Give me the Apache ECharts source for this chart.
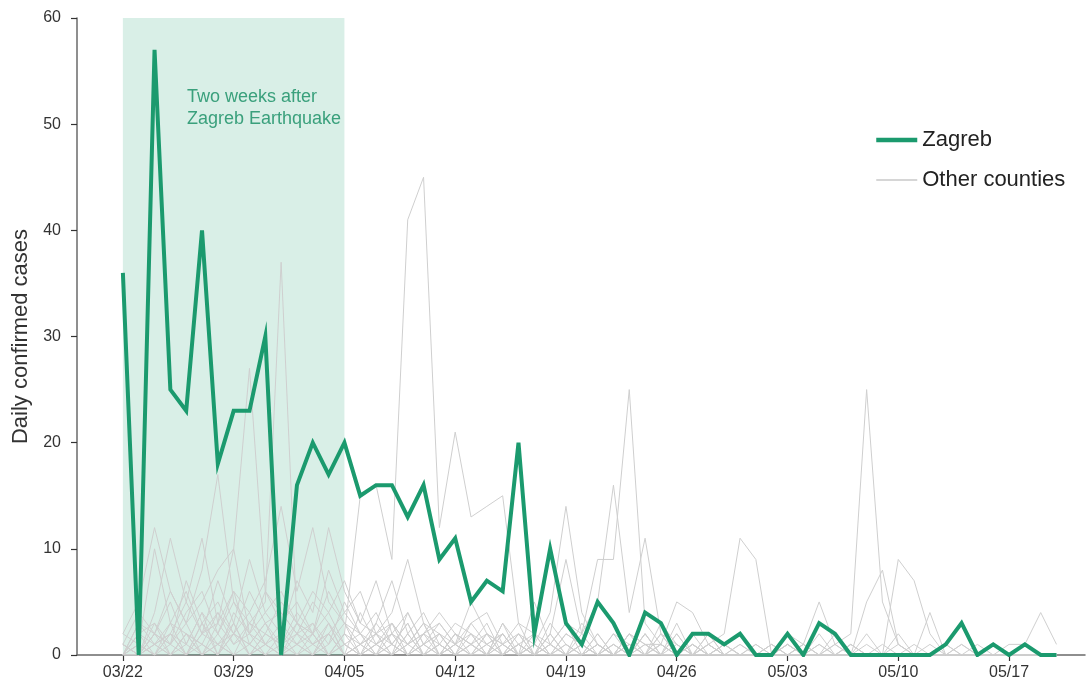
<!DOCTYPE html>
<html>
<head>
<meta charset="utf-8">
<script src="https://cdn.jsdelivr.net/npm/echarts@6/dist/echarts.min.js"></script>
<style>
  html, body { margin: 0; padding: 0; background: #fff; }
  #chart { width: 1088px; height: 692px; }
</style>
</head>
<body>
<div id="chart"></div>
<script>
(function() {
  'use strict';

  // --- Data: day index 0 = 03/22 ---
  var tickDays = [0, 7, 14, 21, 28, 35, 42, 49, 56];
  var tickLabels = ['03/22', '03/29', '04/05', '04/12', '04/19', '04/26', '05/03', '05/10', '05/17'];
  var yTicks = [0, 10, 20, 30, 40, 50, 60];

  var zagreb = [
    36, 0, 57, 25, 23, 40, 18, 23, 23, 30,
    0, 16, 20, 17, 20, 15, 16, 16, 13, 16,
    9, 11, 5, 7, 6, 20, 2, 10, 3, 1,
    5, 3, 0, 4, 3, 0, 2, 2, 1, 2,
    0, 0, 2, 0, 3, 2, 0, 0, 0, 0,
    0, 0, 1, 3, 0, 1, 0, 1, 0, 0
  ];

  var county01 = [0,2,1,3,0,2,4,1,3,5, 37,3,1,2,0,1,0,2,1,0, 1,0,0,2,1,0,0,1,0,0, 0,1,0,0,0,0,1,0,0,0, 0,0,0,0,1,0,0,0,0,0, 0,0,0,0,0,0,0,0,0,0];
  var county02 = [1,4,2,6,3,5,8,10,27,6, 4,2,5,3,1,2,0,1,3,0, 0,1,0,0,2,0,1,0,0,0, 1,0,0,0,0,2,0,0,0,0, 0,0,0,1,0,0,0,0,0,0, 0,0,0,0,0,0,0,0,0,0];
  var county03 = [0,0,1,0,2,0,1,3,0,2, 1,3,2,0,2,15,16,9,41,45, 12,21,13,14,15,3,2,0,1,0, 0,0,1,0,0,0,0,0,1,0, 0,0,0,0,0,0,0,0,0,0, 0,0,0,0,0,0,0,0,0,0];
  var county04 = [2,5,12,6,3,8,17,5,2,4, 6,3,2,4,1,0,2,1,0,1, 0,1,2,0,0,1,0,0,0,1, 0,0,0,0,1,0,0,0,0,0, 0,0,0,0,0,0,1,0,0,0, 0,0,0,0,0,0,0,0,0,0];
  var county05 = [0,3,1,2,5,2,3,6,4,7, 14,6,12,5,3,2,4,1,3,0, 2,0,1,3,0,1,0,2,0,0, 1,0,0,2,0,0,0,1,0,0, 0,0,1,0,0,0,0,0,0,0, 0,0,0,0,0,0,0,0,0,0];
  var county06 = [1,0,4,11,5,11,3,10,2,6, 3,5,2,8,4,6,2,3,1,2, 4,2,1,0,3,1,0,0,2,1, 0,2,0,0,0,1,0,0,0,0, 0,0,0,0,0,0,0,0,0,0, 0,0,0,0,0,0,0,0,0,0];
  var county07 = [0,1,10,3,6,2,7,3,9,4, 2,7,4,12,6,3,7,2,4,1, 3,1,5,2,0,1,2,0,0,1, 0,0,1,0,2,0,0,0,0,1, 0,0,0,0,0,0,0,0,0,0, 0,0,0,0,0,0,0,0,0,0];
  var county08 = [0,2,3,1,4,6,2,5,3,2, 5,3,6,4,7,3,2,4,9,3, 2,1,3,4,1,2,0,1,3,0, 1,0,2,1,0,0,1,0,0,0, 0,1,0,0,0,0,0,0,0,0, 0,0,0,0,0,0,0,0,0,0];
  var county09 = [0,0,1,2,0,3,1,2,4,1, 2,1,3,0,2,1,3,7,2,4, 1,3,2,1,0,2,1,4,14,4, 1,0,2,0,1,0,0,1,0,0, 0,0,0,0,0,0,0,0,0,0, 0,0,0,0,0,0,0,0,0,0];
  var county10 = [0,1,0,2,1,0,3,1,2,0, 1,2,0,1,3,0,1,2,0,1, 0,2,1,0,1,3,0,2,9,2, 9,9,25,3,1,0,2,0,1,0, 0,1,0,0,0,0,0,0,0,0, 0,0,0,0,0,0,0,0,0,0];
  var county11 = [1,0,2,0,1,4,0,2,1,3, 0,2,1,3,0,1,2,0,4,1, 2,0,3,1,2,0,5,1,3,2, 5,16,4,11,2,1,0,2,0,1, 0,0,1,0,0,0,1,0,0,0, 0,0,0,0,0,0,0,0,0,0];
  var county12 = [0,0,1,0,0,2,1,0,3,1, 0,1,2,0,1,0,1,3,0,2, 1,0,0,1,2,0,1,0,2,1, 0,2,1,0,3,1,0,1,2,11, 9,0,1,0,2,0,0,1,0,0, 0,1,0,0,0,0,0,0,0,0];
  var county13 = [2,1,0,3,2,1,4,2,0,1, 3,1,0,2,4,2,1,0,1,3, 0,2,1,0,1,0,2,1,0,3, 1,0,2,1,1,5,4,1,0,0, 1,0,2,1,5,1,0,0,0,1, 0,0,1,0,0,0,0,0,0,0];
  var county14 = [0,1,0,0,2,0,1,0,0,2, 1,0,0,3,0,1,0,0,2,0, 0,1,0,0,0,2,0,1,0,0, 1,0,0,0,1,0,0,2,0,0, 0,1,0,0,0,1,2,25,5,1, 0,0,1,0,0,0,0,0,0,0];
  var county15 = [1,0,2,1,0,3,0,2,1,0, 2,0,1,0,2,0,3,1,0,2, 0,0,1,2,0,0,1,0,0,2, 0,1,0,2,0,0,1,0,0,0, 1,0,0,0,0,1,0,2,0,9, 7,2,0,1,0,0,0,0,0,0];
  var county16 = [0,2,0,1,3,0,2,0,1,0, 0,1,0,2,0,0,1,0,2,0, 1,0,0,0,2,0,0,1,0,0, 2,0,0,1,0,0,0,0,1,0, 0,0,0,1,0,2,0,5,8,1, 0,4,0,0,1,0,0,1,0,0];
  var county17 = [1,0,0,2,0,1,0,3,0,1, 0,0,2,0,1,0,0,1,0,0, 1,0,2,0,0,1,0,0,1,0, 0,0,1,0,0,2,0,0,1,0, 0,0,0,0,0,0,1,0,0,2, 0,0,0,1,0,0,1,1,4,1];
  var county18 = [0,3,2,5,1,4,2,6,1,3, 4,2,3,1,5,2,0,3,1,2, 3,1,0,2,1,0,1,0,0,1, 0,1,0,0,2,0,1,0,0,0, 0,0,0,1,0,0,0,0,0,0, 0,0,0,0,0,0,0,0,0,0];
  var county19 = [0,0,2,1,7,3,5,2,6,3, 1,4,2,6,3,1,2,0,1,3, 0,2,0,1,0,1,0,3,1,0, 2,0,0,1,0,0,0,1,0,0, 0,0,1,0,0,0,0,0,0,0, 0,0,0,0,0,0,0,0,0,0];
  var county20 = [1,0,3,0,2,1,0,4,2,1, 0,3,1,2,0,4,1,2,0,1, 2,0,1,0,3,0,0,2,0,1, 0,0,0,2,0,3,0,0,0,0, 0,0,0,0,1,0,0,0,1,0, 1,0,0,0,0,0,0,0,0,0];

  var otherCounties = [
    county01, county02, county03, county04, county05, county06, county07,
    county08, county09, county10, county11, county12, county13, county14,
    county15, county16, county17, county18, county19, county20
  ];

  // shaded window: two weeks after the earthquake
  var shadeStart = 0;
  var shadeEnd = 14;

  // --- Style constants ---
  var GREEN = '#1b9a6e';
  var GREY = '#cfcfcf';
  var AXIS = '#6a6a6a';
  var FONT = '"Liberation Sans", Arial, sans-serif';

  function toPairs(arr) {
    return arr.map(function(v, i) { return [i, v]; });
  }

  var series = [];

  // background span (own series so it sits under every line)
  series.push({
    type: 'line',
    name: 'shade',
    data: [],
    z: 1,
    silent: true,
    markArea: {
      silent: true,
      itemStyle: { color: 'rgba(27,160,115,0.17)' },
      label: {
        show: true,
        position: [64, 68],
        align: 'left',
        color: '#3aa07c',
        fontSize: 18,
        fontFamily: FONT,
        lineHeight: 22,
        formatter: 'Two weeks after\nZagreb Earthquake'
      },
      data: [[{ xAxis: shadeStart, yAxis: 0 }, { xAxis: shadeEnd, yAxis: 60 }]]
    }
  });

  otherCounties.forEach(function(c) {
    series.push({
      type: 'line',
      name: 'Other counties',
      data: toPairs(c),
      symbol: 'none',
      z: 2,
      silent: true,
      lineStyle: { color: GREY, width: 1 },
      itemStyle: { color: GREY }
    });
  });

  series.push({
    type: 'line',
    name: 'Zagreb',
    data: toPairs(zagreb),
    symbol: 'none',
    z: 3,
    lineStyle: { color: GREEN, width: 4, join: 'miter' },
    itemStyle: { color: GREEN }
  });

  var chart = echarts.init(document.getElementById('chart'), null, { renderer: 'canvas' });

  chart.setOption({
    animation: false,
    backgroundColor: '#ffffff',
    textStyle: { fontFamily: FONT },
    grid: { left: 77, right: 3, top: 18, bottom: 37, containLabel: false },
    legend: {
      orient: 'vertical',
      left: 869,
      top: 124,
      itemWidth: 41,
      itemHeight: 14,
      itemGap: 18,
      itemStyle: { opacity: 0 },
      textStyle: { fontSize: 22, color: '#222', fontFamily: FONT },
      data: [
        { name: 'Zagreb', lineStyle: { width: 4.5, color: GREEN } },
        { name: 'Other counties', lineStyle: { width: 1.5, color: '#c8c8c8' } }
      ]
    },
    xAxis: {
      type: 'value',
      min: -2.9,
      max: 60.8,
      axisLine: { show: true, onZero: false, lineStyle: { color: AXIS, width: 1.5 } },
      axisTick: {
        show: true,
        customValues: tickDays,
        length: 6,
        lineStyle: { color: '#333', width: 1.2 }
      },
      axisLabel: {
        customValues: tickDays,
        fontSize: 16,
        color: '#333',
        margin: 10,
        fontFamily: FONT,
        formatter: function(v) {
          var i = tickDays.indexOf(v);
          return i >= 0 ? tickLabels[i] : '';
        }
      },
      splitLine: { show: false }
    },
    yAxis: {
      type: 'value',
      min: yTicks[0],
      max: yTicks[yTicks.length - 1],
      interval: 10,
      name: 'Daily confirmed cases',
      nameLocation: 'middle',
      nameGap: 44,
      nameTextStyle: { fontSize: 22, color: '#333', fontFamily: FONT },
      axisLine: { show: true, onZero: false, lineStyle: { color: AXIS, width: 1.5 } },
      axisTick: { show: true, length: 6, lineStyle: { color: '#333', width: 1.2 } },
      axisLabel: { fontSize: 16, color: '#333', margin: 16, fontFamily: FONT },
      splitLine: { show: false }
    },
    series: series
  });
})();
</script>
</body>
</html>
